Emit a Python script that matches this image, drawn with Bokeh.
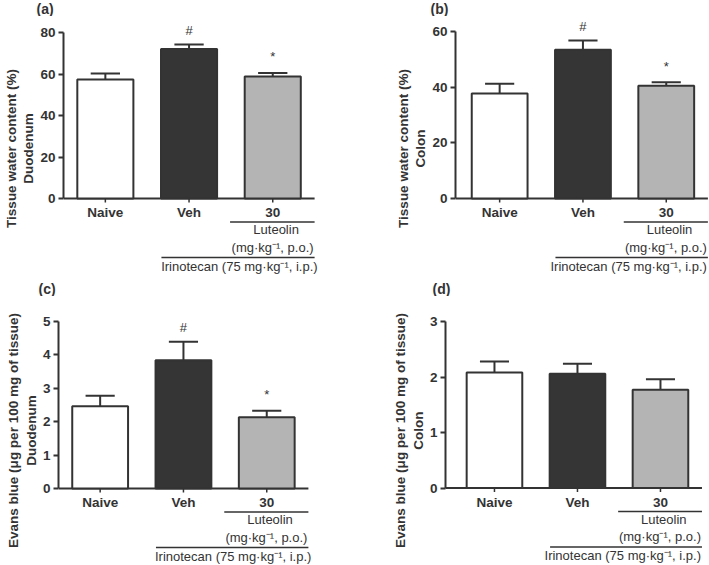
from bokeh.plotting import figure
from bokeh.models import Range1d, FixedTicker, LinearAxis
from bokeh.layouts import column, row
from bokeh.core.properties import value
from bokeh.embed import file_html
from bokeh.resources import INLINE

# ---- data ----
categories = ["Naive", "Veh", "30"]
bar_colors = ["#ffffff", "#353535", "#b4b4b4"]

a_mean = [57.3, 72.0, 58.8]
a_sem = [3.0, 2.2, 1.7]
a_marks = ["", "#", "*"]

b_mean = [37.7, 53.4, 40.5]
b_sem = [3.5, 3.4, 1.3]
b_marks = ["", "#", "*"]

c_mean = [2.46, 3.84, 2.13]
c_sem = [0.32, 0.55, 0.20]
c_marks = ["", "#", "*"]

d_mean = [2.08, 2.06, 1.77]
d_sem = [0.20, 0.18, 0.19]
d_marks = ["", "", ""]

a_ticks = [0, 20, 40, 60, 80]
b_ticks = [0, 20, 40, 60]
c_ticks = [0, 1, 2, 3, 4, 5]
d_ticks = [0, 1, 2, 3]

label_water = "Tissue water content (%)"
label_eb = "Evans blue (\u03bcg per 100 mg of tissue)"
site_duo = "Duodenum"
site_col = "Colon"

lut_line1 = "Luteolin"
lut_line2 = "(mg\u00b7kg\u207b\u00b9, p.o.)"
iri_line = "Irinotecan (75 mg\u00b7kg\u207b\u00b9, i.p.)"

FONT = "Liberation Sans"
INK = "#333333"


def tag_fig(tag, width, height, tx):
    t = figure(width=width, height=height, x_range=Range1d(0, width), y_range=Range1d(0, height),
               x_axis_location=None, y_axis_location=None, output_backend="svg",
               toolbar_location=None, min_border=0)
    t.grid.visible = False
    t.outline_line_color = None
    t.text(x=[tx], y=[height / 2], text=[tag], text_align="left", text_baseline="middle",
           text_font=value(FONT), text_font_style="bold", text_font_size="14px", text_color=INK)
    return t


def make_panel(label1, label2, ymax, ticks, means, sems, marks,
               border_left, frame_w, frame_h, y0_px, ytop_px, x_start, ppu):
    upp = ymax / (y0_px - ytop_px)
    y_start = -(frame_h - y0_px) * upp
    y_end = ymax + ytop_px * upp
    x_end = x_start + frame_w / ppu
    ax_end = min(2.5, x_end)

    p = figure(frame_width=frame_w, frame_height=frame_h,
               x_range=Range1d(x_start, x_end), y_range=Range1d(y_start, y_end),
               x_axis_location=None, y_axis_location="left",
               output_backend="svg", toolbar_location=None,
               min_border_left=border_left, min_border_right=0,
               min_border_top=0, min_border_bottom=0)
    p.grid.visible = False
    p.outline_line_color = None
    p.background_fill_color = "white"

    ya = p.yaxis[0]
    ya.bounds = (0, ymax)
    ya.ticker = FixedTicker(ticks=ticks)
    ya.minor_tick_line_color = None
    ya.major_tick_in = 0
    ya.major_tick_out = 5
    ya.axis_line_width = 2
    ya.axis_line_color = INK
    ya.major_tick_line_width = 2
    ya.major_tick_line_color = INK
    ya.major_label_text_font = FONT
    ya.major_label_text_font_style = "bold"
    ya.major_label_text_font_size = "13.5px"
    ya.major_label_text_color = INK
    ya.major_label_standoff = 3
    ya.axis_label = label2
    ya.axis_label_text_font = FONT
    ya.axis_label_text_font_style = "bold"
    ya.axis_label_text_font_size = "13.5px"
    ya.axis_label_text_color = INK
    ya.axis_label_standoff = 1

    outer = LinearAxis(ticker=FixedTicker(ticks=[]), axis_label=label1,
                       axis_line_color=None, major_tick_line_color=None,
                       minor_tick_line_color=None, major_tick_out=0, major_tick_in=0,
                       major_label_standoff=0, axis_label_standoff=0,
                       axis_label_text_font=FONT, axis_label_text_font_style="bold",
                       axis_label_text_font_size="13.5px", axis_label_text_color=INK)
    p.add_layout(outer, "left")

    idx = list(range(len(categories)))
    tops = [m + s for m, s in zip(means, sems)]

    # x axis baseline and ticks
    p.segment(x0=[x_start], y0=[0], x1=[ax_end], y1=[0], line_color=INK, line_width=2)
    p.segment(x0=idx, y0=[0] * 3, x1=idx, y1=[-4 * upp] * 3, line_color=INK, line_width=1.5)

    # error bars (upper only)
    p.segment(x0=idx, y0=means, x1=idx, y1=tops, line_color=INK, line_width=2)
    p.segment(x0=[i - 0.175 for i in idx], y0=tops, x1=[i + 0.175 for i in idx], y1=tops,
              line_color=INK, line_width=2)

    # bars
    p.vbar(x=idx, top=means, bottom=0, width=0.67, fill_color=bar_colors,
           line_color=INK, line_width=2)

    # significance marks
    mark_off = [-16 if m == "*" else -14 for m in marks]
    p.text(x=idx, y=tops, text=marks, y_offset=mark_off, text_align="center",
           text_baseline="middle", text_font=value(FONT), text_font_size="13px",
           text_color=INK)

    # category labels
    p.text(x=idx, y=[0] * 3, text=categories, y_offset=14, text_align="center",
           text_baseline="middle", text_font=value(FONT), text_font_style="bold",
           text_font_size="13.5px", text_color=INK)

    # Luteolin group
    ly = -23.5 * upp
    p.segment(x0=[1.49], y0=[ly], x1=[ax_end], y1=[ly], line_color=INK, line_width=1.5)
    p.text(x=[2.04], y=[0], text=[lut_line1], y_offset=[31],
           text_align="center", text_baseline="middle", text_font=value(FONT),
           text_font_size="13px", text_color=INK)
    p.text(x=[ax_end], y=[0], text=[lut_line2], y_offset=[48.5], x_offset=[-1],
           text_align="right", text_baseline="middle", text_font=value(FONT),
           text_font_size="13px", text_color=INK)

    # Irinotecan group
    iy = -59 * upp
    p.segment(x0=[0.67], y0=[iy], x1=[ax_end], y1=[iy], line_color=INK, line_width=1.5)
    p.text(x=[ax_end], y=[0], text=[iri_line], y_offset=[67.5],
           x_offset=[3 if x_end > 2.62 else -1],
           text_align="right", text_baseline="middle", text_font=value(FONT),
           text_font_size="13px", text_color=INK)
    return p


# top row: tag strip 0..16, panels 16..280
pa = make_panel(label_water, site_duo, 80, a_ticks, a_mean, a_sem, a_marks,
                border_left=58, frame_w=302, frame_h=264, y0_px=182, ytop_px=16,
                x_start=-0.5, ppu=83.7)
pb = make_panel(label_water, site_col, 60, b_ticks, b_mean, b_sem, b_marks,
                border_left=90, frame_w=258, frame_h=264, y0_px=182, ytop_px=15,
                x_start=-0.53, ppu=83.3)
# bottom row: tag strip 280..296, panels 296..564
pc = make_panel(label_eb, site_duo, 5, c_ticks, c_mean, c_sem, c_marks,
                border_left=58, frame_w=302, frame_h=268, y0_px=192, ytop_px=25,
                x_start=-0.5, ppu=83.3)
pd = make_panel(label_eb, site_col, 3, d_ticks, d_mean, d_sem, d_marks,
                border_left=85, frame_w=263, frame_h=268, y0_px=191.5, ytop_px=25,
                x_start=-0.59, ppu=83.0)

ta = tag_fig("(a)", 360, 16, 36)
tb = tag_fig("(b)", 348, 16, 70)
tc = tag_fig("(c)", 360, 16, 38)
td = tag_fig("(d)", 348, 16, 72)

layout = column(row(ta, tb), row(pa, pb), row(tc, td), row(pc, pd))

open("out.html", "w").write(file_html(layout, INLINE))
